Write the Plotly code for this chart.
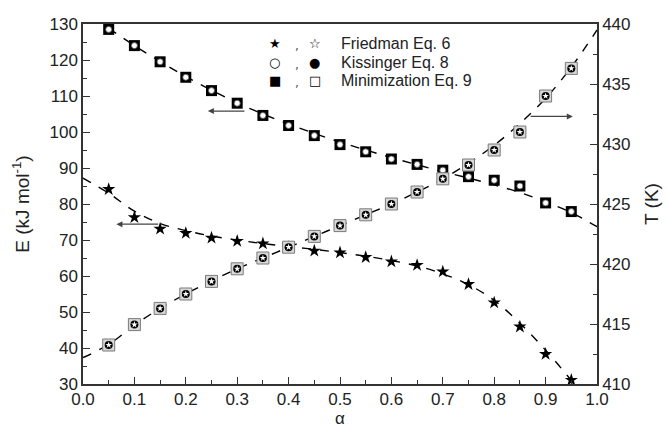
import plotly.graph_objects as go

# ---------------- data ----------------
alpha = [0.05, 0.10, 0.15, 0.20, 0.25, 0.30, 0.35, 0.40, 0.45, 0.50,
         0.55, 0.60, 0.65, 0.70, 0.75, 0.80, 0.85, 0.90, 0.95]

# Activation energy (kJ/mol), left axis
E_friedman = [84.1, 76.3, 73.1, 71.9, 70.6, 69.7, 69.0, 68.0, 67.0, 66.5,
              65.2, 64.0, 63.0, 61.2, 57.7, 52.6, 45.9, 38.3, 31.1]
E_kissinger_min = [128.5, 124.0, 119.5, 115.2, 111.5, 108.0, 104.6, 101.8, 99.0, 96.5,
                   94.5, 92.5, 91.0, 89.4, 87.6, 86.6, 85.0, 80.3, 77.9]

# Temperature (K), right axis
T_vals = [413.25, 414.95, 416.3, 417.5, 418.55, 419.6, 420.5, 421.4, 422.3, 423.2,
          424.1, 425.0, 426.0, 427.1, 428.25, 429.5, 431.0, 434.0, 436.3]

# dashed fit curves
alpha_fitE = [0.05, 0.10, 0.15, 0.20, 0.25, 0.30, 0.35, 0.40, 0.45, 0.50,
              0.55, 0.60, 0.65, 0.70, 0.75, 0.80, 0.85, 0.90, 0.95, 1.00]
E_fit = [128.8, 124.0, 119.6, 115.4, 111.6, 108.1, 105.0, 102.2, 99.6, 97.2,
         95.0, 92.9, 90.9, 89.0, 87.2, 85.3, 83.2, 80.6, 77.6, 73.7]

alpha_fitF = [0.00, 0.05, 0.10, 0.15, 0.20, 0.25, 0.30, 0.35, 0.40, 0.45,
              0.50, 0.55, 0.60, 0.65, 0.70, 0.75, 0.80, 0.85, 0.90, 0.95]
F_fit = [87.2, 83.0, 78.0, 74.6, 72.6, 71.1, 70.0, 69.0, 68.2, 67.4,
         66.5, 65.5, 64.3, 62.8, 60.6, 57.6, 53.2, 46.9, 39.4, 31.0]

alpha_fitT = [0.00, 0.05, 0.10, 0.15, 0.20, 0.25, 0.30, 0.35, 0.40, 0.45, 0.50,
              0.55, 0.60, 0.65, 0.70, 0.75, 0.80, 0.85, 0.90, 0.95, 1.00]
T_fit = [412.2, 413.3, 414.9, 416.3, 417.5, 418.6, 419.6, 420.5, 421.4, 422.3, 423.2,
         424.1, 425.0, 426.0, 427.1, 428.4, 429.9, 431.7, 433.8, 436.4, 439.5]

legend_rows = [("\u2605", "\u2606", "Friedman Eq. 6"),
               ("\u25CB", "\u25CF", "Kissinger Eq. 8"),
               ("\u25A0", "\u25A1", "Minimization Eq. 9")]

FONT = "Liberation Sans, Arial, sans-serif"
AX = "#333333"

fig = go.Figure()

dash = dict(color="black", width=1.4, dash="dash", shape="spline")

fig.add_trace(go.Scatter(x=alpha_fitE, y=E_fit, mode="lines", line=dash, yaxis="y", hoverinfo="skip"))
fig.add_trace(go.Scatter(x=alpha_fitF, y=F_fit, mode="lines", line=dash, yaxis="y", hoverinfo="skip"))
fig.add_trace(go.Scatter(x=alpha_fitT, y=T_fit, mode="lines", line=dash, yaxis="y2", hoverinfo="skip"))

# Friedman E: filled stars
fig.add_trace(go.Scatter(x=alpha, y=E_friedman, mode="markers", yaxis="y",
                         marker=dict(symbol="star", size=10, color="black", line=dict(width=0))))
# Kissinger / Minimization E: filled squares + open circles
fig.add_trace(go.Scatter(x=alpha, y=E_kissinger_min, mode="markers", yaxis="y",
                         marker=dict(symbol="square", size=11, color="black", line=dict(width=0))))
fig.add_trace(go.Scatter(x=alpha, y=E_kissinger_min, mode="markers", yaxis="y",
                         marker=dict(symbol="circle", size=6, color="white",
                                     line=dict(width=0.8, color="#555"))))
# Temperatures: open squares + filled circles + open stars
fig.add_trace(go.Scatter(x=alpha, y=T_vals, mode="markers", yaxis="y2",
                         marker=dict(symbol="square", size=12, color="#d8d8d8",
                                     line=dict(width=1, color="#7a7a7a"))))
fig.add_trace(go.Scatter(x=alpha, y=T_vals, mode="markers", yaxis="y2",
                         marker=dict(symbol="circle", size=8, color="black", line=dict(width=0))))
fig.add_trace(go.Scatter(x=alpha, y=T_vals, mode="markers", yaxis="y2",
                         marker=dict(symbol="star", size=5, color="white", line=dict(width=0))))

annotations = []
# arrows
arrow_style = dict(showarrow=True, arrowhead=2, arrowsize=1, arrowwidth=1.2,
                   arrowcolor="#444", text="", axref="x", xref="x")
annotations.append(dict(x=0.243, y=105.8, ax=0.317, ay=105.8, yref="y", ayref="y", **arrow_style))
annotations.append(dict(x=0.065, y=74.4, ax=0.149, ay=74.4, yref="y", ayref="y", **arrow_style))
annotations.append(dict(x=0.953, y=432.3, ax=0.868, ay=432.3, yref="y2", ayref="y2", **arrow_style))

# legend as text
row_y = [0.947, 0.894, 0.843]
for (s1, s2, lab), yy in zip(legend_rows, row_y):
    annotations.append(dict(x=0.3735, y=yy, xref="paper", yref="paper", text=s1, showarrow=False,
                            xanchor="center", yanchor="middle",
                            font=dict(family="DejaVu Sans", size=13, color="black")))
    annotations.append(dict(x=0.416, y=yy - 0.008, xref="paper", yref="paper", text=",", showarrow=False,
                            xanchor="center", yanchor="middle",
                            font=dict(family="DejaVu Sans", size=12, color="#555555")))
    annotations.append(dict(x=0.451, y=yy, xref="paper", yref="paper", text=s2, showarrow=False,
                            xanchor="center", yanchor="middle",
                            font=dict(family="DejaVu Sans", size=13, color="black")))
    annotations.append(dict(x=0.498, y=yy, xref="paper", yref="paper", text=lab, showarrow=False,
                            xanchor="left", yanchor="middle",
                            font=dict(family=FONT, size=16, color="#222")))

# x-axis title as annotation (placed below tick labels)
annotations.append(dict(x=0.5, y=-0.125, xref="paper", yref="paper", text="\u03b1", showarrow=False,
                        xanchor="center", yanchor="bottom", borderpad=0,
                        font=dict(family=FONT, size=17, color="#222")))

axis_common = dict(showline=True, linecolor=AX, linewidth=1.5, ticks="inside", ticklen=7,
                   tickwidth=1.3, tickcolor=AX, showgrid=False, zeroline=False, automargin=False,
                   tickfont=dict(family=FONT, size=17, color="#222"))

fig.update_layout(
    width=669, height=429,
    margin=dict(l=83, r=72, t=24, b=45),
    plot_bgcolor="white", paper_bgcolor="white",
    showlegend=False,
    annotations=annotations,
    xaxis=dict(range=[0, 1], dtick=0.1, tickformat=".1f", mirror=True, ticklabelstandoff=-1,
               minor=dict(ticks="inside", ticklen=4, dtick=0.05, tickcolor=AX, tickwidth=1.2),
               **axis_common),
    yaxis=dict(range=[30, 130], dtick=10,
               minor=dict(ticks="inside", ticklen=4, dtick=5, tickcolor=AX, tickwidth=1.2),
               title=dict(text="E (kJ mol<sup>-1</sup>)", font=dict(family=FONT, size=19, color="#222")),
               **axis_common),
    yaxis2=dict(range=[410, 440], dtick=5, overlaying="y", side="right",
                minor=dict(ticks="inside", ticklen=4, dtick=2.5, tickcolor=AX, tickwidth=1.2),
                title=dict(text="T (K)", font=dict(family=FONT, size=19, color="#222")),
                **axis_common),
)

fig.write_html("out.html")
